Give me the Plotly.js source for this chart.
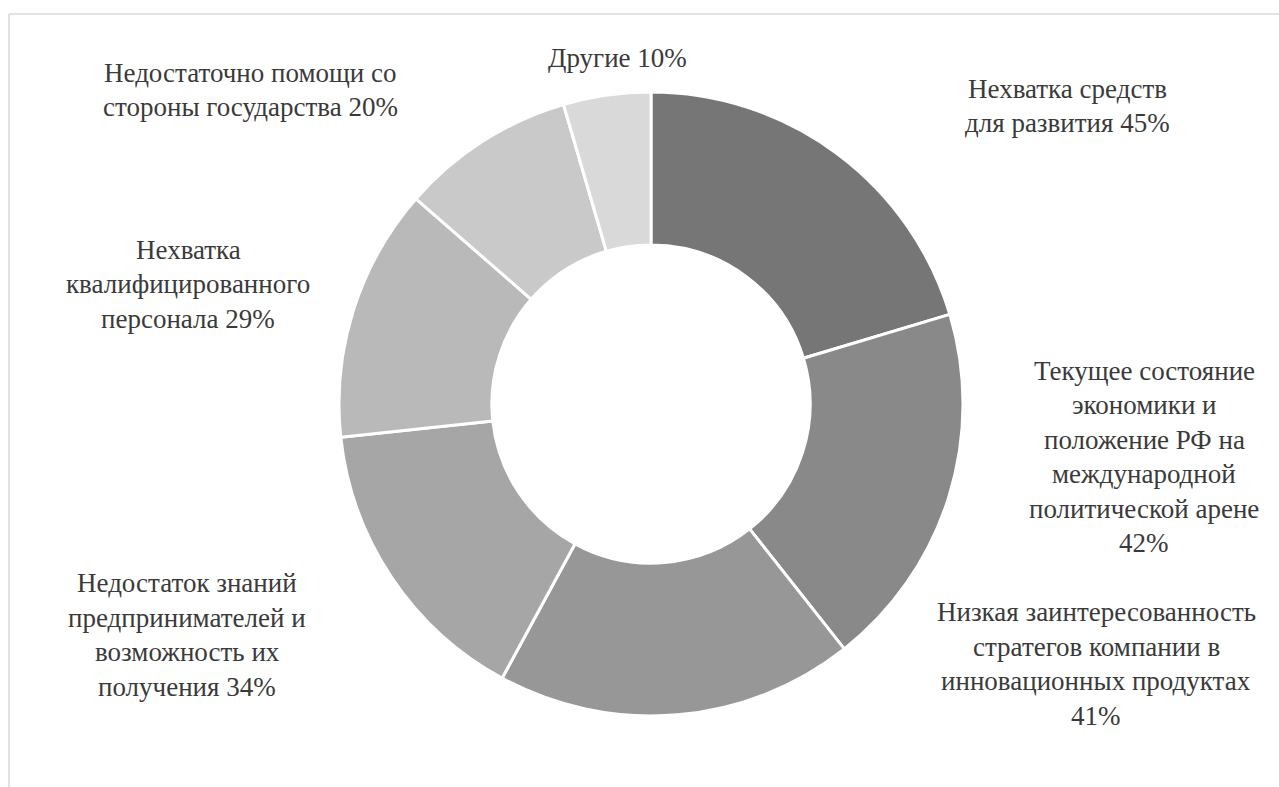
<!DOCTYPE html>
<html>
<head>
<meta charset="utf-8">
<script src="https://cdn.plot.ly/plotly-3.0.1.min.js"></script>
<style>
  html, body { margin: 0; padding: 0; background: #fff; }
  #chart { width: 1279px; height: 787px; }
</style>
</head>
<body>
<div id="chart"></div>
<script>
// Data
const categories = [
  "Нехватка средств<br>для развития",
  "Текущее состояние<br>экономики и<br>положение РФ на<br>международной<br>политической арене<br>",
  "Низкая заинтересованность<br>стратегов компании в<br>инновационных продуктах<br>",
  "Недостаток знаний<br>предпринимателей и<br>возможность их<br>получения",
  "Нехватка<br>квалифицированного<br>персонала",
  "Недостаточно помощи со<br>стороны государства",
  "Другие"
];
const values = [45, 42, 41, 34, 29, 20, 10];
const colors = ["#767676", "#898989", "#979797", "#a6a6a6", "#b9b9b9", "#c9c9c9", "#d9d9d9"];

// Label anchor positions (pixels in the 1279x787 canvas)
const labelPos = [
  [1067, 106], [1144, 457], [1096, 664], [187, 635], [188, 284], [250, 90], [617, 58]
];

const W = 1279, H = 787;
const cx = 651, cy = 404, R = 312;
const lineGap = 34.5;
const FONT = { family: "Liberation Serif", size: 27, color: "#3a3a3a" };

const annotations = [];
categories.forEach((c, i) => {
  const sep = c.endsWith("<br>") ? "" : " ";
  const lines = (c + sep + values[i] + "%").split("<br>");
  const n = lines.length;
  lines.forEach((ln, k) => {
    const py = labelPos[i][1] + (k - (n - 1) / 2) * lineGap;
    annotations.push({
      xref: "paper", yref: "paper",
      x: labelPos[i][0] / W, y: 1 - py / H,
      xanchor: "center", yanchor: "middle", align: "center",
      showarrow: false,
      text: ln,
      font: FONT
    });
  });
});

const trace = {
  type: "pie",
  labels: categories,
  values: values,
  sort: false,
  direction: "clockwise",
  rotation: 0,
  hole: 0.51,
  textinfo: "none",
  hoverinfo: "label+value",
  marker: { colors: colors, line: { color: "#ffffff", width: 3 } },
  domain: { x: [(cx - R) / W, (cx + R) / W], y: [1 - (cy + R) / H, 1 - (cy - R) / H] },
  showlegend: false
};

const layout = {
  width: W, height: H,
  margin: { l: 0, r: 0, t: 0, b: 0 },
  paper_bgcolor: "#ffffff",
  font: { family: "Liberation Serif" },
  showlegend: false,
  annotations: annotations,
  shapes: [
    { type: "line", xref: "paper", yref: "paper", x0: 9 / W, x1: 1.01, y0: 1 - 14 / H, y1: 1 - 14 / H, line: { color: "#d9d9d9", width: 1.5 } },
    { type: "line", xref: "paper", yref: "paper", x0: 9 / W, x1: 9 / W, y0: 1 - 14 / H, y1: -0.01, line: { color: "#d9d9d9", width: 1.5 } }
  ]
};

Plotly.newPlot("chart", [trace], layout, { displayModeBar: false, staticPlot: true });
</script>
</body>
</html>
